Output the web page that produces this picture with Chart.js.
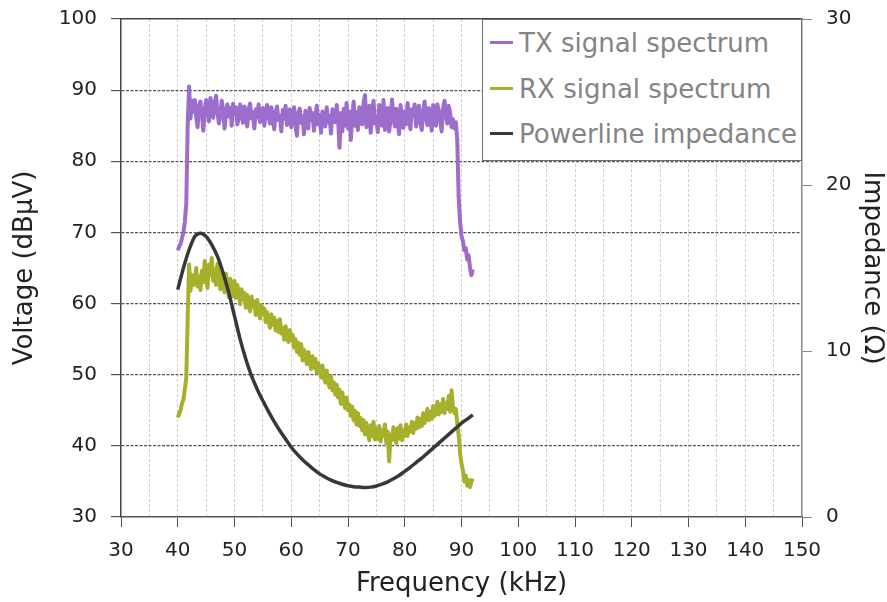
<!DOCTYPE html>
<html>
<head>
<meta charset="utf-8">
<script src="https://cdn.jsdelivr.net/npm/chart.js@4/dist/chart.umd.min.js"></script>
<style>
  html, body { margin:0; padding:0; background:#fff; }
  #wrap { position:relative; width:887px; height:602px; }
  #legend { position:absolute; left:482px; top:19px; width:318px; height:140px; background:#fff;
            border:1.5px solid #6e6e6e; font-family:"DejaVu Sans", Verdana, sans-serif; font-size:26px; color:#848484; }
  .item { position:absolute; left:7px; height:30px; line-height:30px; white-space:nowrap; }
  .sw { display:inline-block; width:23px; height:3.5px; vertical-align:middle; margin-right:6px; position:relative; top:-2px; }
</style>
</head>
<body>
<div id="wrap">
  <canvas id="c" width="887" height="602"></canvas>
  <div id="legend"></div>
</div>
<script>
// ---- Data ----
const seriesNames = ["TX signal spectrum", "RX signal spectrum", "Powerline impedance"];
const seriesColors = ["#9d6dcd", "#a7b02b", "#383838"];

// Frequency grid for the measured spectra (kHz): 40 to 92 kHz in 0.25 kHz steps
const specStart = 40, specStep = 0.25;

const txVoltage = [
 67.5,68.0,68.4,69.2,70.0,71.5,74.0,85.0,90.5,
 86.0,88.5,87.0,88.6,86.2,84.8,87.9,88.4,86.8,84.3,87.2,88.6,87.4,85.6,88.9,87.8,86.1,88.2,89.2,87.0,
 85.3,86.4,88.5,87.2,84.6,86.7,88.0,86.3,87.5,85.0,88.1,86.6,
 87.6,85.2,86.1,88.0,86.9,85.4,87.7,86.3,84.9,87.4,88.1,86.0,86.9,84.6,87.3,86.2,88.0,85.5,86.6,87.5,
 85.0,86.8,87.9,86.4,85.3,87.6,86.1,84.5,86.9,87.7,85.8,86.4,84.2,87.2,86.0,87.8,85.1,86.5,87.3,84.8,
 86.6,87.6,85.0,83.6,86.8,87.4,85.4,86.3,83.8,87.1,86.0,84.6,87.5,85.8,86.8,84.3,86.1,87.8,85.2,86.5,
 84.0,87.0,86.2,84.9,87.6,85.5,86.4,83.9,87.3,86.0,85.5,87.9,86.1,81.9,86.8,84.2,87.4,85.0,88.2,84.6,
 87.0,83.0,86.2,88.4,85.0,86.9,84.4,87.6,86.0,85.2,88.3,89.3,84.8,86.5,87.8,84.0,86.7,88.5,85.3,86.2,
 84.1,87.9,86.6,85.0,88.6,84.4,86.8,87.5,84.2,85.9,88.7,86.3,84.9,87.4,85.6,83.8,87.9,86.1,84.7,87.0,
 85.2,88.2,86.0,84.5,87.3,86.4,88.0,84.9,86.6,87.8,85.4,84.4,87.1,88.4,86.0,85.1,87.5,86.7,84.3,87.9,
 86.2,85.0,88.0,87.1,85.6,84.2,87.4,88.5,86.6,85.3,87.8,86.8,84.8,85.9,84.6,85.5,
 83.0,75.0,71.5,69.5,68.8,67.5,67.8,66.2,66.8,65.0,64.0,64.8
];

const rxVoltage = [
 44.0,44.5,45.0,46.0,46.5,48.0,49.5,58.0,65.5,
 61.8,64.0,62.6,63.2,65.0,62.4,63.8,61.9,64.6,63.0,66.0,63.4,62.2,65.5,64.0,66.4,
 63.2,64.8,62.6,65.6,63.8,62.0,64.4,63.0,61.6,64.2,62.8,60.9,63.5,62.2,61.0,63.2,
 60.8,62.6,61.4,59.9,62.0,60.6,61.5,59.4,61.2,60.0,58.9,61.0,59.6,60.3,58.4,60.5,59.0,57.9,59.8,58.6,
 59.3,57.4,58.8,57.6,56.6,58.5,57.0,58.0,56.2,57.6,56.0,57.8,55.8,56.6,54.9,56.8,55.2,54.6,56.3,54.8,
 55.6,53.8,55.0,53.2,54.5,52.8,54.3,52.0,53.5,52.6,51.5,53.2,51.9,50.8,52.6,51.0,52.2,50.3,51.6,50.9,
 49.6,51.3,49.8,48.9,50.6,49.0,48.2,49.8,47.8,48.9,47.2,48.6,46.8,47.9,45.9,47.5,46.2,45.3,46.8,45.0,
 45.8,44.2,45.5,43.6,44.9,43.0,44.6,42.8,43.9,42.2,43.6,41.6,43.2,42.0,40.8,42.9,41.4,43.4,40.9,42.4,
 41.0,42.8,40.6,42.2,41.4,43.0,40.4,42.0,37.8,41.6,40.8,42.6,41.2,40.4,42.5,41.0,42.9,40.8,42.2,41.4,
 43.0,41.4,42.6,42.0,43.4,41.8,43.2,42.4,44.0,42.6,43.8,42.8,44.6,43.2,44.2,45.2,43.6,44.8,43.8,45.6,
 44.2,45.0,46.2,44.4,45.8,44.8,46.6,44.6,46.0,45.2,47.0,44.8,47.8,45.6,44.6,45.2,
 43.2,41.5,39.0,37.5,36.5,35.0,35.8,34.4,35.2,34.2,35.0,35.4
];

// Powerline impedance (Ω), 40..92 kHz in 1 kHz steps
const impFreq = [40,41,42,43,44,45,46,47,48,49,50,51,52,53,54,55,56,57,58,59,60,61,62,63,64,65,
 66,67,68,69,70,71,72,73,74,75,76,77,78,79,80,81,82,83,84,85,86,87,88,89,90,91,92];
const impedance = [13.7,15.0,16.1,16.9,17.1,16.9,16.4,15.7,14.7,13.5,12.1,10.7,9.5,8.5,7.7,7.0,
 6.35,5.75,5.2,4.7,4.2,3.8,3.45,3.15,2.85,2.6,2.4,2.22,2.08,1.97,1.88,1.82,1.8,1.78,1.8,1.87,
 1.98,2.12,2.3,2.5,2.75,3.0,3.28,3.55,3.85,4.15,4.45,4.75,5.05,5.35,5.65,5.9,6.15];

const xTickLabels = [30,40,50,60,70,80,90,100,110,120,130,140,150];
const yLeftTicks = [30,40,50,60,70,80,90,100];
const yRightTicks = [0,10,20,30];

// ---- Build datasets ----
const toPts = (arr) => arr.map((v, i) => ({ x: specStart + i * specStep, y: v }));
const txPts = toPts(txVoltage);
const rxPts = toPts(rxVoltage);
const impPts = impFreq.map((f, i) => ({ x: f, y: impedance[i] }));

const FONT = '"DejaVu Sans", Verdana, sans-serif';
const TXT = '#222';

new Chart(document.getElementById('c'), {
  type: 'line',
  data: {
    datasets: [
      { label: seriesNames[0], data: txPts, borderColor: seriesColors[0], borderWidth: 4,
        pointRadius: 0, tension: 0, yAxisID: 'y', order: 1, borderJoinStyle: 'round' },
      { label: seriesNames[1], data: rxPts, borderColor: seriesColors[1], borderWidth: 4,
        pointRadius: 0, tension: 0, yAxisID: 'y', order: 2, borderJoinStyle: 'round' },
      { label: seriesNames[2], data: impPts, borderColor: seriesColors[2], borderWidth: 3.5,
        pointRadius: 0, tension: 0.4, cubicInterpolationMode: 'monotone', yAxisID: 'y1', order: 0 }
    ]
  },
  options: {
    responsive: false,
    animation: false,
    layout: { padding: { left: 8, right: 0, top: 0, bottom: 0 } },
    plugins: { legend: { display: false }, tooltip: { enabled: false } },
    scales: {
      x: {
        type: 'linear', position: 'bottom', min: 30, max: 150,
        afterFit: s => { s.height = 85; s.paddingLeft = 0; s.paddingRight = 0; },
        afterBuildTicks: s => { const t = []; for (let v = 30; v <= 150; v += 5) t.push({ value: v }); s.ticks = t; },
        ticks: { font: { family: FONT, size: 20 }, color: TXT, padding: 12, maxRotation: 0, autoSkip: false,
                 callback: v => xTickLabels.includes(v) ? String(v) : '' },
        grid: { color: c => (c.tick && (c.tick.value === 30 || c.tick.value === 150)) ? 'rgba(0,0,0,0)' : '#cfcfcf',
                lineWidth: 1, tickLength: 10,
                tickColor: c => (c.tick && c.tick.value % 10 === 0) ? '#555' : 'rgba(0,0,0,0)' },
        border: { display: true, color: '#555', width: 1.5, dash: [3, 2] },
        title: { display: true, text: 'Frequency (kHz)', font: { family: FONT, size: 26 }, color: TXT, padding: { top: 0, bottom: 2 } }
      },
      xTop: {
        type: 'linear', position: 'top', min: 30, max: 150,
        afterFit: s => { s.height = 19; s.paddingLeft = 0; s.paddingRight = 0; },
        ticks: { display: false },
        grid: { display: false, drawOnChartArea: false, drawTicks: false },
        border: { display: true, color: '#444', width: 1.5 }
      },
      y: {
        type: 'linear', position: 'left', min: 30, max: 100,
        afterFit: s => { s.width = 113; s.paddingTop = 0; s.paddingBottom = 0; },
        afterBuildTicks: s => { s.ticks = yLeftTicks.map(v => ({ value: v })); },
        ticks: { font: { family: FONT, size: 20 }, color: TXT, padding: 14 },
        grid: { color: c => (c.tick && (c.tick.value === 30 || c.tick.value === 100)) ? 'rgba(0,0,0,0)' : '#555',
                lineWidth: 1.2, tickLength: 10, tickColor: '#555' },
        border: { display: true, color: '#444', width: 1.5, dash: [3, 1.5] },
        title: { display: true, text: 'Voltage (dBµV)', font: { family: FONT, size: 26 }, color: TXT, padding: { top: 2, bottom: 4 } }
      },
      y1: {
        type: 'linear', position: 'right', min: 0, max: 30,
        afterFit: s => { s.width = 85; s.paddingTop = 0; s.paddingBottom = 0; },
        afterBuildTicks: s => { s.ticks = yRightTicks.map(v => ({ value: v })); },
        ticks: { font: { family: FONT, size: 20 }, color: TXT, padding: 14 },
        grid: { drawOnChartArea: false, tickLength: 10, tickColor: '#888' },
        border: { display: true, color: '#888', width: 1.5 },
        title: { display: true, text: 'Impedance (Ω)', font: { family: FONT, size: 26 }, color: TXT, padding: { top: 0, bottom: 2 } }
      }
    }
  }
});

// ---- Legend (HTML text) ----
const lg = document.getElementById('legend');
const rowTops = [8, 54, 99];
seriesNames.forEach((n, i) => {
  const d = document.createElement('div');
  d.className = 'item';
  d.style.top = rowTops[i] + 'px';
  const sw = document.createElement('span');
  sw.className = 'sw';
  sw.style.background = seriesColors[i];
  d.appendChild(sw);
  d.appendChild(document.createTextNode(n));
  lg.appendChild(d);
});
</script>
</body>
</html>
